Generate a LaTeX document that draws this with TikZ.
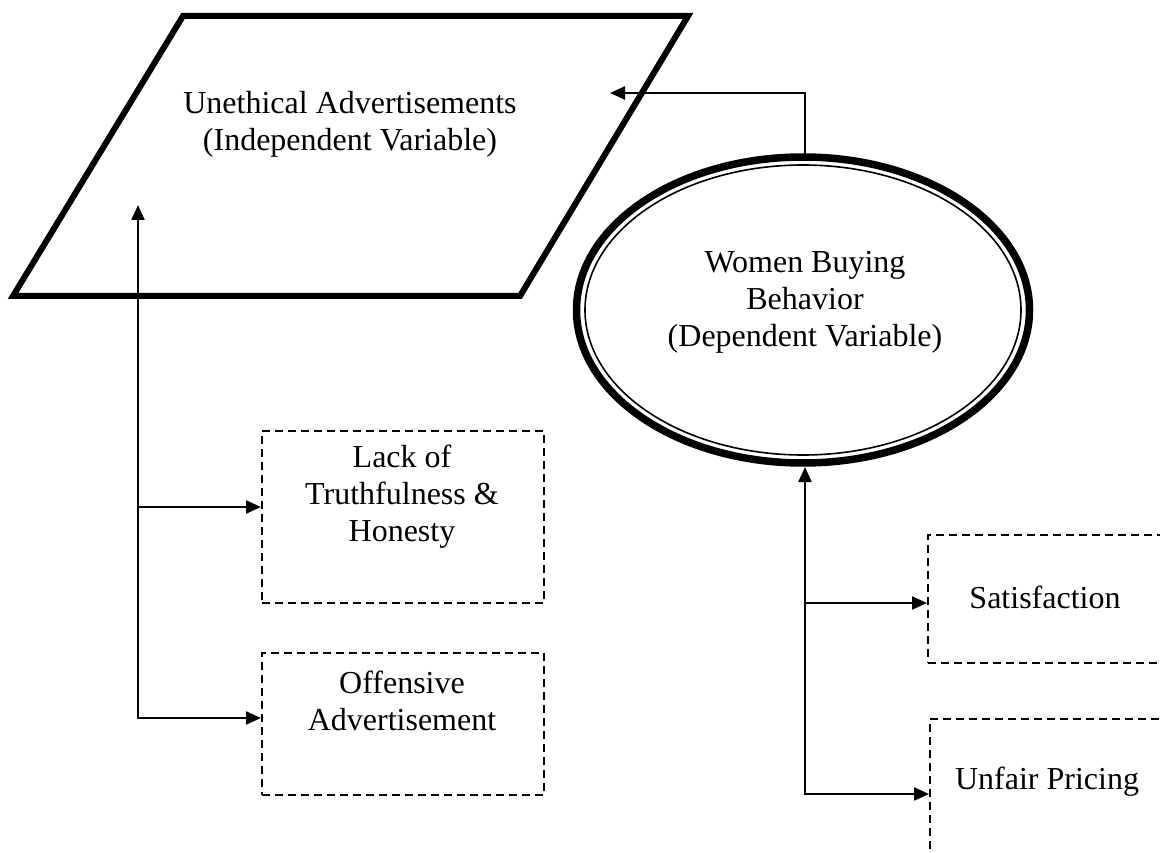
\documentclass[tikz,border=0pt]{standalone}
\usepackage{fontspec}
\setmainfont{Liberation Serif}
\usetikzlibrary{shapes.geometric,arrows.meta,calc}
\begin{document}
\begin{tikzpicture}[x=1pt,y=-1pt,
  tipA/.tip={Triangle[length=15pt,width=13pt]},
  conn/.style={line width=2.2pt,-tipA},
  dconn/.style={line width=2.2pt,tipA-tipA},
  dbox/.style={draw,line width=2.2pt,dash pattern=on 8pt off 5pt,rectangle,inner sep=0pt,anchor=north west},
  lbl/.style={font=\fontsize{32}{37}\selectfont,align=center},
]
\clip (0,0) rectangle (1160,853);
\fill[white] (0,0) rectangle (1160,853);
% parallelogram
\coordinate (p1) at (183,16);
\coordinate (p2) at (688,16);
\coordinate (p3) at (520,296);
\coordinate (p4) at (13,296);
\draw[line width=6pt,line join=miter] (p1)--(p2)--(p3)--(p4)--cycle;
\node[lbl] (ua) at (350,124) {Unethical Advertisements\\(Independent Variable)};
% ellipse
\node[draw,ellipse,line width=7.5pt,minimum width=453pt,minimum height=306pt,inner sep=0pt] (wb) at (803,310) {};
\draw[line width=1.6pt] (wb.center) ellipse [x radius=218pt, y radius=145pt];
\node[lbl] (wbt) at (805,302) {Women Buying\\Behavior\\(Dependent Variable)};
% boxes
\node[dbox,minimum width=282pt,minimum height=172pt] (b1) at (261,430) {};
\node[dbox,minimum width=282pt,minimum height=142pt] (b2) at (261,652) {};
\node[dbox,minimum width=282pt,minimum height=128pt] (b3) at (927,534) {};
\node[dbox,minimum width=282pt,minimum height=172pt] (b4) at (929,718) {};
\node[lbl] (t1) at (402,497) {Lack of\\Truthfulness \&\\Honesty};
\node[lbl] (t2) at (402,701) {Offensive\\Advertisement};
\node[lbl] (t3) at (1045,597) {Satisfaction};
\node[lbl] (t4) at (1047,782) {Unfair Pricing};
% connectors
\coordinate (uain) at (610,93);
\coordinate (et) at (805,157);
\coordinate (eb) at (805,467);
\draw[conn] (et) |- (uain);
\coordinate (lt) at (138,205);
\coordinate (lb) at (138,718);
\coordinate (j1) at (138,507);
\draw[dconn] (lt) -- (lb) -- (b2.west |- lb);
\draw[conn] (j1) -- (b1.west |- j1);
\coordinate (rb) at (805,794);
\coordinate (j3) at (805,603);
\draw[dconn] (eb) -- (rb) -- (b4.west |- rb);
\draw[conn] (j3) -- (b3.west |- j3);
\end{tikzpicture}
\end{document}
